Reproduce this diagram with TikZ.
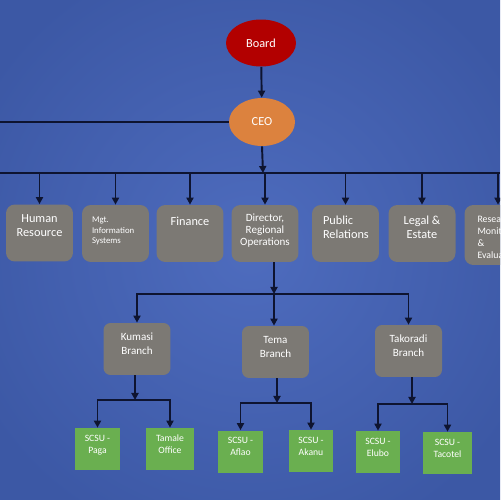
\documentclass[tikz,border=0pt]{standalone}
\usepackage{fontspec}
\setmainfont{Carlito}
\usetikzlibrary{shapes.geometric, arrows.meta, positioning, calc}
\definecolor{bgin}{RGB}{78,108,190}
\definecolor{bgout}{RGB}{60,88,165}
\definecolor{boardred}{RGB}{178,0,0}
\definecolor{ceoorange}{RGB}{220,130,62}
\definecolor{boxgray}{RGB}{124,121,116}
\definecolor{boxgreen}{RGB}{106,175,80}
\definecolor{linecol}{RGB}{14,20,48}
\tikzset{
  basebox/.style={rectangle,inner sep=0pt},
  leadnode/.style={ellipse,inner sep=0pt,text=white,font=\fontsize{7}{8}\selectfont},
  deptbox/.style={basebox,rounded corners=5pt,fill=boxgray,minimum width=1.34cm,minimum height=1.14cm},
  branchbox/.style={basebox,rounded corners=4pt,fill=boxgray,minimum width=1.34cm,minimum height=1.04cm},
  unitbox/.style={basebox,fill=boxgreen,minimum height=0.84cm},
  toptext/.style={inner sep=0pt,text=white},
  depttext/.style={toptext,anchor=north,align=center,yshift=-0.21cm,font=\fontsize{7}{8}\selectfont},
  smalltext/.style={toptext,anchor=north west,align=left,font=\fontsize{5}{6}\selectfont},
  branchtext/.style={toptext,anchor=north,align=center,yshift=-0.2cm,font=\fontsize{6.3}{8}\selectfont},
  unittext/.style={toptext,anchor=north,align=center,yshift=-0.14cm,font=\fontsize{5.5}{6.8}\selectfont},
  link/.style={line width=1.1pt,draw=linecol},
  arr/.style={link,-{Triangle[length=4pt,width=4pt]}}
}
\begin{document}
\begin{tikzpicture}[x=0.02cm,y=-0.02cm]
  \useasboundingbox (0,0) rectangle (500,500);
  \clip (0,0) rectangle (500,500);
  \shade[inner color=bgin,outer color=bgout] (-60,-60) rectangle (560,560);

  % top of the tree
  \node[leadnode,fill=boardred,minimum width=1.4cm,minimum height=0.94cm] (board) at (261,43) {Board};
  \node[leadnode,fill=ceoorange,minimum width=1.32cm,minimum height=0.96cm] (ceo) at (262,122) {CEO};
  \coordinate (leftend) at (0,122);
  \coordinate (jceo) at (263,173);
  \coordinate (barL) at (0,173);
  \coordinate (barR) at (500,173);

  % departments
  \node[deptbox] (hr) at (39.5,233) {};
  \node[depttext] (hrtxt) at (hr.north) {Human\\Resource};
  \node[deptbox] (mis) at (115.5,233.5) {};
  \node[smalltext,xshift=0.2cm,yshift=-0.24cm] (mistxt) at (mis.north west) {Mgt.\\Information\\Systems};
  \node[deptbox] (fin) at (190,233.5) {};
  \node[depttext,yshift=-0.03cm] (fintxt) at (fin.north) {Finance};
  \node[deptbox] (dir) at (265,233.5) {};
  \node[depttext,yshift=0.04cm,font=\fontsize{6.3}{7}\selectfont] (dirtxt) at (dir.north) {Director,\\Regional\\Operations};
  \node[deptbox] (pr) at (345.5,233.5) {};
  \node[depttext,anchor=north west,align=left,xshift=0.22cm] (prtxt) at (pr.north west) {Public\\Relations};
  \node[deptbox] (leg) at (422,233.5) {};
  \node[depttext] (legtxt) at (leg.north) {Legal \&\\Estate};
  \node[deptbox,minimum height=1.2cm] (res) at (498,235) {};
  \node[smalltext,xshift=0.26cm,yshift=-0.22cm,font=\fontsize{5.6}{6.8}\selectfont] (restxt) at (res.north west) {Research\\Monitoring\\\&\\Evaluation};

  % branches
  \coordinate (jdir) at (274,294);
  \node[branchbox] (kum) at (137,349) {};
  \node[branchtext] (kumtxt) at (kum.north) {Kumasi\\Branch};
  \node[branchbox] (tema) at (275.5,352) {};
  \node[branchtext] (tematxt) at (tema.north) {Tema\\Branch};
  \node[branchbox] (tak) at (408.5,351) {};
  \node[branchtext] (taktxt) at (tak.north) {Takoradi\\Branch};

  % units
  \coordinate (jkum) at (135,400);
  \coordinate (jtema) at (277,403);
  \coordinate (jtak) at (412,404);
  \node[unitbox,minimum width=0.9cm] (paga) at (97.5,449) {};
  \node[unittext] (pagatxt) at (paga.north) {SCSU -\\Paga};
  \node[unitbox,minimum width=0.96cm] (tam) at (170,449) {};
  \node[unittext] (tamtxt) at (tam.north) {Tamale\\Office};
  \node[unitbox,minimum width=0.9cm] (afl) at (240.5,451.5) {};
  \node[unittext] (afltxt) at (afl.north) {SCSU -\\Aflao};
  \node[unitbox,minimum width=0.88cm] (aka) at (311,451) {};
  \node[unittext] (akatxt) at (aka.north) {SCSU -\\Akanu};
  \node[unitbox,minimum width=0.88cm] (elu) at (378,452) {};
  \node[unittext] (elutxt) at (elu.north) {SCSU -\\Elubo};
  \node[unitbox,minimum width=0.98cm] (tac) at (447.5,453) {};
  \node[unittext] (tactxt) at (tac.north) {SCSU -\\Tacotel};

  % connectors
  \draw[arr] (board) -- (ceo);
  \draw[link] (ceo.west) -- (leftend);
  \draw[arr] (ceo.south) -- (jceo);
  \draw[link] (barL) -- (barR);
  \foreach \d in {hr,mis,fin,dir,pr,leg,res}
    \draw[arr] (\d.north |- jceo) -- (\d.north);
  \draw[arr] (dir.south -| jdir) -- (jdir);
  \draw[arr] (jdir) -| (kum.north);
  \draw[arr] (jdir) -| (tak.north);
  \draw[arr] (jdir) -- (jdir |- tema.north);
  \draw[arr] (kum.south -| jkum) -- (jkum);
  \draw[arr] (jkum) -| (paga.north);
  \draw[arr] (jkum) -| (tam.north);
  \draw[arr] (tema.south -| jtema) -- (jtema);
  \draw[arr] (jtema) -| (afl.north);
  \draw[arr] (jtema) -| (aka.north);
  \draw[arr] (tak.south -| jtak) -- (jtak);
  \draw[arr] (jtak) -| (elu.north);
  \draw[arr] (jtak) -| (tac.north);
\end{tikzpicture}
\end{document}
